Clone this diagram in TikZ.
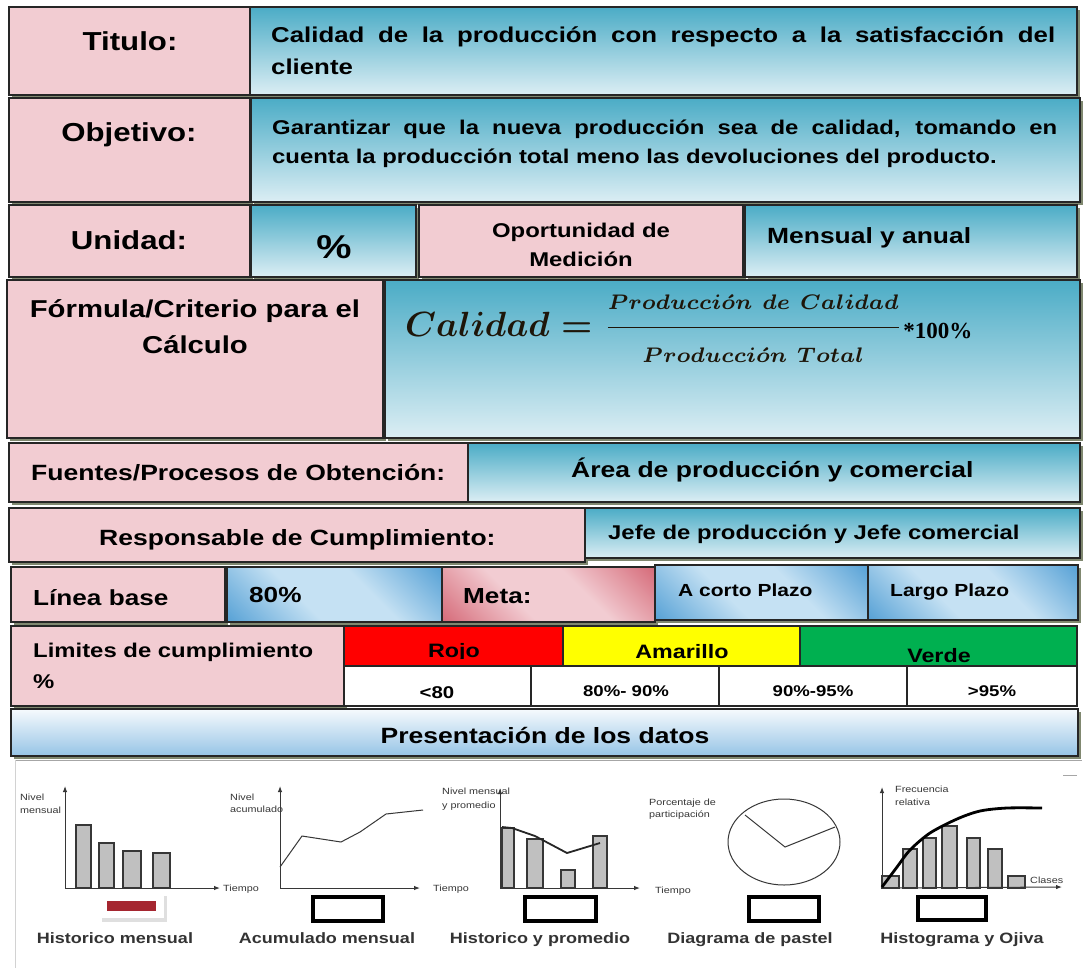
\documentclass[tikz,border=0pt]{standalone}
\usepackage{fontspec}
\setmainfont{Liberation Sans}[FakeStretch=1.2]
\newfontfamily\serifb{Liberation Serif}
\usetikzlibrary{arrows.meta}
\newcommand\fsz[1]{\fontsize{#1}{#1}\selectfont}
\definecolor{pinkc}{RGB}{242,204,210}
\definecolor{bluetop}{RGB}{75,172,198}
\definecolor{bluebot}{RGB}{220,238,244}
\definecolor{dkb}{RGB}{88,162,214}
\definecolor{ltb}{RGB}{197,225,243}
\definecolor{dkp}{RGB}{214,108,122}
\definecolor{shadowc}{RGB}{128,136,112}
\definecolor{redc}{RGB}{255,0,0}
\definecolor{yellowc}{RGB}{255,255,0}
\definecolor{greenc}{RGB}{0,176,80}
\definecolor{presw}{RGB}{246,250,253}
\definecolor{presb}{RGB}{150,196,230}
\definecolor{barred}{RGB}{165,38,48}
\definecolor{barg}{RGB}{192,192,192}
\definecolor{ink}{RGB}{55,55,55}
\definecolor{formc}{RGB}{30,22,10}
\pgfdeclarehorizontalshading{diagblue}{100bp}{color(0bp)=(dkb); color(15bp)=(dkb); color(40bp)=(ltb); color(60bp)=(ltb); color(85bp)=(dkb); color(100bp)=(dkb)}
\pgfdeclarehorizontalshading{diagpink}{100bp}{color(0bp)=(dkp); color(15bp)=(dkp); color(40bp)=(pinkc); color(60bp)=(pinkc); color(85bp)=(dkp); color(100bp)=(dkp)}
\newcommand\fracpart[1]{\hbox{\scalebox{0.86}{$\scriptstyle #1$}}}
\newcommand\calform{\scalebox{3.5}{\boldmath$Calidad=\displaystyle\frac{\fracpart{Producci\acute{o}n\ de\ Calidad}}{\fracpart{Producci\acute{o}n\ Total}}$}}
\newcommand\cellbox[5]{\fill[shadowc,shift={(2.5,2.5)}] (#2,#3) rectangle (#4,#5); \path[#1] (#2,#3) rectangle (#4,#5);}
\tikzset{
 cellline/.style={draw=black!85, line width=1.6pt},
 pinkcell/.style={cellline, fill=pinkc},
 bluecell/.style={cellline, top color=bluetop, bottom color=bluebot},
 diagcell/.style={cellline, shading=diagblue, shading angle=45},
 metacell/.style={cellline, shading=diagpink, shading angle=45},
 prescell/.style={cellline, top color=presw, bottom color=presb},
 hdr/.style={anchor=base, inner sep=0, font=\fsz{26}\bfseries},
 txt/.style={anchor=base west, inner sep=0, font=\fsz{#1}\bfseries},
 ctxt/.style={anchor=base, inner sep=0, font=\fsz{#1}\bfseries},
 bar/.style={draw=ink, line width=1.1, fill=barg},
 ax/.style={draw=ink, line width=1, -{Latex[length=6pt,width=4.5pt]}},
 frame/.style={draw=black, line width=3.5, fill=white},
 tiny/.style={anchor=base west, inner sep=0, font=\fsz{9}, text=ink},
 clab/.style={anchor=base, inner sep=0, font=\fsz{15}\bfseries, text=black!80},
}
\begin{document}
\begin{tikzpicture}[x=1pt,y=-1pt]
\useasboundingbox[fill=white] (0,0) rectangle (1091,970);
% Row 1
\cellbox{pinkcell}{9}{7}{250}{95}
\cellbox{bluecell}{250}{7}{1077}{95}
\node[hdr] (tit) at (130,50) {Titulo:};
\node[txt=21.5] (titA) at (271,42) {\makebox[784pt][s]{Calidad de la producción con respecto a la satisfacción del}};
\node[txt=21.5] (titB) at (271,74) {cliente};
% Row 2
\cellbox{pinkcell}{9}{98}{250}{202}
\cellbox{bluecell}{251}{98}{1080}{202}
\node[hdr] (obj) at (129,141) {Objetivo:};
\node[txt=19.9] (objA) at (272,134) {\makebox[785pt][s]{Garantizar que la nueva producción sea de calidad, tomando en}};
\node[txt=19.9] (objB) at (272,163) {cuenta la producción total meno las devoluciones del producto.};
% Row 3
\cellbox{pinkcell}{9}{205}{250}{277}
\cellbox{bluecell}{251}{205}{416}{277}
\cellbox{pinkcell}{419}{205}{743}{277}
\cellbox{bluecell}{745}{205}{1077}{277}
\node[hdr] (uni) at (129,249) {Unidad:};
\node[ctxt=33] (pc) at (334,258) {\%};
\node[ctxt=19.9] (opA) at (581,237) {Oportunidad de};
\node[ctxt=19.9] (opB) at (581,266) {Medición};
\node[txt=22] (mens) at (767,243) {Mensual y anual};
% Row 4
\cellbox{pinkcell}{7}{280}{383}{438}
\cellbox{bluecell}{385}{280}{1080}{438}
\node[ctxt=24.4] (formA) at (195,317) {Fórmula/Criterio para el};
\node[ctxt=24.4] (formB) at (195,353) {Cálculo};
\node[anchor=base west, inner sep=0, text=formc] (form) at (405,336) {\calform};
\node[anchor=base west, inner sep=0, font=\serifb\fsz{23}\bfseries] (pct) at ([yshift=-2]form.base east) {*100\%};
% Row 5
\cellbox{pinkcell}{9}{443}{468}{502}
\cellbox{bluecell}{468}{443}{1080}{502}
\node[txt=22.1] (fue) at (31,480) {Fuentes/Procesos de Obtención:};
\node[txt=22.1] (area) at (571,477) {Área de producción y comercial};
% Row 6
\cellbox{pinkcell}{9}{508}{585}{562}
\cellbox{bluecell}{585}{508}{1080}{558}
\node[txt=22.1] (resp) at (99,545) {Responsable de Cumplimiento:};
\node[txt=19.9] (jefe) at (608,539) {Jefe de producción y Jefe comercial};
% Row 7
\cellbox{pinkcell}{11}{567}{225}{622}
\cellbox{diagcell}{227}{567}{442}{622}
\cellbox{metacell}{442}{567}{655}{622}
\cellbox{diagcell}{655}{565}{868}{620}
\cellbox{diagcell}{868}{565}{1078}{620}
\node[txt=21.8] (lin) at (33,605) {Línea base};
\node[txt=21.8] (ochenta) at (249,602) {80\%};
\node[txt=21.8] (meta) at (463,603) {Meta:};
\node[txt=17.5] (corto) at (678,596) {A corto Plazo};
\node[txt=17.5] (largo) at (890,596) {Largo Plazo};
% Row 8
\cellbox{pinkcell}{11}{626}{344}{706}
\node[txt=19.9] (limA) at (33,657) {Limites de cumplimiento};
\node[txt=19.9] (limB) at (33,688) {\%};
\fill[redc] (344,626) rectangle (563,666);
\fill[yellowc] (563,626) rectangle (800,666);
\fill[greenc] (800,626) rectangle (1077,666);
\fill[white] (344,666) rectangle (1077,706);
\begin{scope}
\clip (344,626) rectangle (563,658.5);
\node[ctxt=19.4] (rojo) at (454,657) {Rojo};
\end{scope}
\node[ctxt=19.4] (amar) at (682,658) {Amarillo};
\node[ctxt=19.4] (verde) at (939,662) {Verde};
\node[ctxt=17] (r1) at (437,698) {<80};
\node[ctxt=15.5] (r2) at (626,696) {80\%- 90\%};
\node[ctxt=15.5] (r3) at (813,696) {90\%-95\%};
\node[ctxt=15.5] (r4) at (992,696) {>95\%};
\draw[line width=1.6, black!85] (344,626) rectangle (1077,706) (344,666) -- (1077,666)
  (563,626) -- (563,666) (800,626) -- (800,666)
  (531,666) -- (531,706) (719,666) -- (719,706) (907,666) -- (907,706);
% Row 9
\cellbox{prescell}{11}{709}{1078}{756}
\node[ctxt=22.1] (pres) at (545,743) {Presentación de los datos};
% image frame
\draw[gray!70, line width=1] (15,760) -- (1082,760);
\draw[gray!35, line width=1] (15,760) -- (15,968);
\draw[gray!70, line width=1] (1063,775) -- (1077,775);
% Chart 1
\draw[bar] (76,888) rectangle (91,825);
\draw[bar] (99,888) rectangle (114,843);
\draw[bar] (123,888) rectangle (141,851);
\draw[bar] (153,888) rectangle (170,853);
\draw[ax] (65,888) -- (65,786);
\draw[ax] (65,888) -- (220,888);
\node[tiny] (c1a) at (20,800) {Nivel};
\node[tiny] (c1b) at (20,813) {mensual};
\node[tiny] (c1t) at (223,891) {Tiempo};
\fill[gray!25] (102,896) rectangle (167,922);
\fill[white] (100,893) rectangle (164,918);
\fill[barred] (107,901) rectangle (156,911);
\node[clab] (l1) at (115,943) {Historico mensual};
% Chart 2
\draw[ax] (280,888) -- (280,786);
\draw[ax] (280,888) -- (420,888);
\draw[ink, line width=1] (280,867) -- (302,836) -- (341,842) -- (360,832) -- (386,814) -- (423,810);
\node[tiny] (c2a) at (230,800) {Nivel};
\node[tiny] (c2b) at (230,812) {acumulado};
\node[tiny] (c2t) at (433,891) {Tiempo};
\draw[frame] (313,897) rectangle (383,921);
\node[clab] (l2) at (327,943) {Acumulado mensual};
% Chart 3
\draw[bar] (502,888) rectangle (514,828);
\draw[bar] (527,888) rectangle (543,839);
\draw[bar] (561,888) rectangle (575,870);
\draw[bar] (593,888) rectangle (607,836);
\draw[ax] (500,888) -- (500,788);
\draw[ax] (500,888) -- (640,888);
\draw[black!85, line width=1.8] (502,827) -- (512,828) -- (535,836) -- (567,853) -- (600,843);
\node[tiny] (c3a) at (442,794) {Nivel mensual};
\node[tiny] (c3b) at (442,808) {y promedio};
\node[tiny] (c3t) at (655,893) {Tiempo};
\draw[frame] (525,897) rectangle (596,921);
\node[clab] (l3) at (540,943) {Historico y promedio};
% Chart 4
\draw[ink, line width=1] (784,842) ellipse [x radius=56, y radius=43];
\draw[ink, line width=1] (745,815) -- (785,847) -- (835,827);
\node[tiny] (c4a) at (649,805) {Porcentaje de};
\node[tiny] (c4b) at (649,817) {participación};
\draw[frame] (749,897) rectangle (819,921);
\node[clab] (l4) at (750,943) {Diagrama de pastel};
% Chart 5
\draw[bar] (882,888) rectangle (899,876);
\draw[bar] (903,888) rectangle (917,849);
\draw[bar] (923,888) rectangle (936,838);
\draw[bar] (942,888) rectangle (957,826);
\draw[bar] (967,888) rectangle (980,838);
\draw[bar] (988,888) rectangle (1002,849);
\draw[bar] (1008,888) rectangle (1025,876);
\draw[ax] (882,888) -- (882,787);
\draw[ax] (882,888) -- (1062,887);
\draw[black, line width=2.8] plot[smooth] coordinates {(882,887) (897,867) (910,850) (930,833) (957,819) (980,811) (1007,808) (1042,808)};
\node[tiny] (c5a) at (895,792) {Frecuencia};
\node[tiny] (c5b) at (895,805) {relativa};
\node[tiny] (c5t) at (1030,883) {Clases};
\draw[frame] (918,897) rectangle (986,920);
\node[clab] (l5) at (962,943) {Histograma y Ojiva};
\end{tikzpicture}
\end{document}
